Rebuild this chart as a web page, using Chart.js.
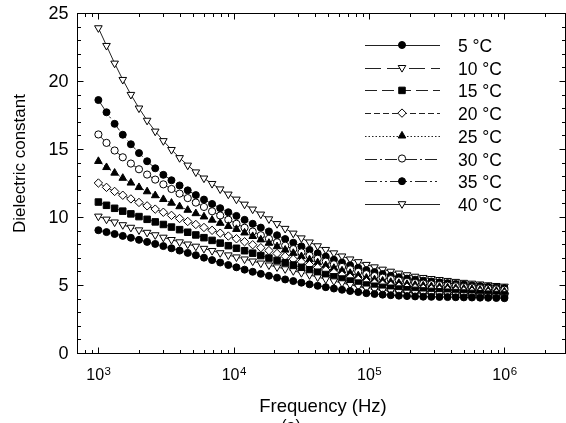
<!DOCTYPE html>
<html>
<head>
<meta charset="utf-8">
<script src="https://cdn.jsdelivr.net/npm/chart.js@4.4.0/dist/chart.umd.min.js"></script>
<style>
  html, body { margin: 0; padding: 0; background: #fff; }
  #wrap { width: 566px; height: 423px; }
</style>
</head>
<body>
<div id="wrap"><canvas id="chart" width="566" height="423"></canvas></div>
<script>
// Dielectric constant vs frequency, 5-40 degC

const freqs = [1000, 1148, 1318, 1514, 1738, 1995, 2291, 2630, 3020, 3467,
    3981, 4571, 5248, 6026, 6918, 7943, 9120, 10471, 12023, 13804,
    15849, 18197, 20893, 23988, 27542, 31623, 36308, 41687, 47863, 54954,
    63096, 72444, 83176, 95499, 109648, 125893, 144544, 165959, 190546, 218776,
    251189, 288403, 331131, 380189, 436516, 501187, 575440, 660693, 758578, 870964,
    1000000];

const temps = ['5', '10', '15', '20', '25', '30', '35', '40'];

const eps5 = [9.03, 8.89, 8.75, 8.61, 8.47, 8.32, 8.17, 8.02, 7.86, 7.70,
    7.53, 7.36, 7.19, 7.01, 6.83, 6.65, 6.47, 6.30, 6.13, 5.97,
    5.82, 5.68, 5.54, 5.41, 5.29, 5.17, 5.05, 4.94, 4.84, 4.74,
    4.65, 4.56, 4.48, 4.40, 4.34, 4.29, 4.25, 4.215, 4.185, 4.16,
    4.14, 4.13, 4.12, 4.11, 4.10, 4.09, 4.08, 4.07, 4.06, 4.045, 4.03];
const eps10 = [10.05, 9.83, 9.62, 9.42, 9.23, 9.04, 8.86, 8.68, 8.50, 8.33,
    8.16, 8.00, 7.84, 7.68, 7.52, 7.36, 7.20, 7.05, 6.90, 6.75,
    6.60, 6.46, 6.32, 6.18, 6.04, 5.90, 5.74, 5.58, 5.43, 5.29,
    5.15, 5.02, 4.89, 4.76, 4.68, 4.61, 4.55, 4.50, 4.46, 4.425,
    4.395, 4.37, 4.35, 4.325, 4.30, 4.275, 4.25, 4.225, 4.20, 4.175, 4.15];
const eps15 = [11.1, 10.86, 10.64, 10.43, 10.23, 10.03, 9.83, 9.64, 9.45, 9.26,
    9.07, 8.88, 8.68, 8.48, 8.28, 8.08, 7.89, 7.70, 7.52, 7.34,
    7.16, 6.98, 6.81, 6.64, 6.47, 6.30, 6.12, 5.94, 5.77, 5.60,
    5.44, 5.29, 5.14, 5.00, 4.91, 4.83, 4.76, 4.70, 4.65, 4.605,
    4.565, 4.53, 4.50, 4.47, 4.44, 4.41, 4.38, 4.355, 4.325, 4.30, 4.27];
const eps20 = [12.5, 12.18, 11.88, 11.60, 11.33, 11.07, 10.82, 10.58, 10.35, 10.12,
    9.89, 9.67, 9.45, 9.23, 9.02, 8.81, 8.60, 8.40, 8.18, 7.96,
    7.74, 7.53, 7.32, 7.11, 6.90, 6.70, 6.49, 6.29, 6.10, 5.92,
    5.74, 5.57, 5.41, 5.25, 5.15, 5.06, 4.98, 4.91, 4.85, 4.80,
    4.755, 4.715, 4.68, 4.645, 4.61, 4.575, 4.54, 4.505, 4.47, 4.435, 4.40];
const eps25 = [14.1, 13.65, 13.24, 12.86, 12.51, 12.18, 11.87, 11.58, 11.30, 11.03,
    10.77, 10.51, 10.26, 10.02, 9.78, 9.55, 9.32, 9.10, 8.84, 8.58,
    8.33, 8.08, 7.83, 7.58, 7.34, 7.10, 6.87, 6.65, 6.44, 6.24,
    6.05, 5.87, 5.69, 5.52, 5.40, 5.30, 5.21, 5.13, 5.06, 5.00,
    4.945, 4.895, 4.85, 4.81, 4.77, 4.73, 4.69, 4.64, 4.60, 4.56, 4.52];
const eps30 = [16.07, 15.45, 14.89, 14.39, 13.93, 13.51, 13.12, 12.75, 12.40, 12.06,
    11.72, 11.39, 11.06, 10.74, 10.42, 10.11, 9.80, 9.50, 9.21, 8.93,
    8.66, 8.40, 8.14, 7.89, 7.64, 7.40, 7.16, 6.93, 6.72, 6.52,
    6.33, 6.15, 5.97, 5.80, 5.66, 5.54, 5.43, 5.33, 5.24, 5.16,
    5.10, 5.05, 5.00, 4.95, 4.91, 4.86, 4.82, 4.77, 4.73, 4.69, 4.65];
const eps35 = [18.6, 17.7, 16.85, 16.05, 15.35, 14.7, 14.1, 13.58, 13.1, 12.7,
    12.32, 11.96, 11.61, 11.28, 10.96, 10.65, 10.35, 10.08, 9.79, 9.50,
    9.22, 8.94, 8.66, 8.38, 8.11, 7.84, 7.58, 7.33, 7.09, 6.86,
    6.65, 6.45, 6.27, 6.10, 5.95, 5.81, 5.68, 5.57, 5.47, 5.39,
    5.32, 5.26, 5.20, 5.14, 5.08, 5.03, 4.97, 4.92, 4.87, 4.82, 4.78];
const eps40 = [23.9, 22.6, 21.3, 20.1, 19.0, 18.0, 17.1, 16.3, 15.6, 14.95,
    14.35, 13.8, 13.3, 12.85, 12.45, 12.05, 11.67, 11.3, 10.93, 10.57,
    10.2, 9.85, 9.5, 9.15, 8.8, 8.45, 8.15, 7.87, 7.6, 7.35,
    7.12, 6.9, 6.7, 6.5, 6.32, 6.15, 6.0, 5.86, 5.74, 5.63,
    5.54, 5.46, 5.39, 5.32, 5.25, 5.18, 5.12, 5.06, 5.0, 4.95, 4.9];

const series = [eps5, eps10, eps15, eps20, eps25, eps30, eps35, eps40];

const xDecades = [3, 4, 5, 6];
const yTickValues = [0, 5, 10, 15, 20, 25];

// marker + line style for each temperature
const styles = [
    { point: 'circle', rot: 0, r: 3.5, open: false, dash: [] },
    { point: 'triangle', rot: 180, r: 4.4, open: true, dash: [16, 6] },
    { point: 'rect', rot: 0, r: 4.6, open: false, dash: [12, 5] },
    { point: 'rectRot', rot: 0, r: 4.2, open: true, dash: [6, 3] },
    { point: 'triangle', rot: 0, r: 4.4, open: false, dash: [1.5, 2] },
    { point: 'circle', rot: 0, r: 3.6, open: true, dash: [12, 3, 2, 3] },
    { point: 'circle', rot: 0, r: 3.5, open: false, dash: [12, 3, 2, 3, 2, 3] },
    { point: 'triangle', rot: 180, r: 4.4, open: true, dash: [] }
];

const FONT = '"Liberation Sans", Arial, Helvetica, sans-serif';

const datasets = series.map((vals, i) => {
    const s = styles[i];
    return {
        label: temps[i] + ' °C',
        data: freqs.map((f, k) => ({ x: f, y: vals[k] })),
        borderColor: '#222',
        borderWidth: 1,
        borderDash: s.dash,
        pointStyle: s.point,
        pointRotation: s.rot,
        pointRadius: s.r,
        pointBorderWidth: 1,
        pointBorderColor: '#000',
        pointBackgroundColor: s.open ? '#fff' : '#000',
        fill: false,
        tension: 0
    };
});

function crisp(v) { return Math.round(v) + 0.5; }

const framePlugin = {
    id: 'frame',
    afterDraw(chart) {
        const ctx = chart.ctx;
        const a = chart.chartArea;
        const xs = chart.scales.x;
        const ys = chart.scales.y;
        ctx.save();
        ctx.strokeStyle = '#000';
        ctx.fillStyle = '#000';
        ctx.lineWidth = 1;
        ctx.setLineDash([]);

        const L = crisp(a.left), R = crisp(a.right - 1), T = crisp(a.top), B = crisp(a.bottom);
        ctx.strokeRect(L, T, R - L, B - T);

        // x ticks, inside, top and bottom
        ctx.beginPath();
        for (let d = 2; d <= 6; d++) {
            for (let m = 1; m <= 9; m++) {
                const v = m * Math.pow(10, d);
                if (v < xs.min || v > xs.max) continue;
                const px = crisp(xs.getPixelForValue(v));
                const len = m === 1 ? 6 : 3.5;
                ctx.moveTo(px, B); ctx.lineTo(px, B - len);
                ctx.moveTo(px, T); ctx.lineTo(px, T + len);
            }
        }
        // y ticks, every unit
        for (let v = 0; v <= 25; v++) {
            const py = crisp(ys.getPixelForValue(v));
            const len = v % 5 === 0 ? 6 : 3.5;
            ctx.moveTo(L, py); ctx.lineTo(L + len, py);
            ctx.moveTo(R, py); ctx.lineTo(R - len, py);
        }
        ctx.stroke();

        // y tick labels
        ctx.font = '18px ' + FONT;
        ctx.textAlign = 'right';
        ctx.textBaseline = 'middle';
        yTickValues.forEach(v => {
            ctx.fillText(String(v), 68.5, ys.getPixelForValue(v) + 1);
        });

        // x tick labels 10^n
        ctx.textAlign = 'left';
        ctx.textBaseline = 'alphabetic';
        xDecades.forEach(d => {
            const px = xs.getPixelForValue(Math.pow(10, d));
            ctx.font = '16px ' + FONT;
            const wBase = ctx.measureText('10').width;
            ctx.font = '11.5px ' + FONT;
            const wExp = ctx.measureText(String(d)).width;
            const x0 = px - (wBase + wExp) / 2;
            ctx.font = '16px ' + FONT;
            ctx.fillText('10', x0, 380);
            ctx.font = '11.5px ' + FONT;
            ctx.fillText(String(d), x0 + wBase + 0.5, 374.8);
        });

        // axis titles
        ctx.font = '18.5px ' + FONT;
        ctx.textAlign = 'center';
        ctx.fillText('Frequency (Hz)', (a.left + a.right) / 2 + 1.5, 411.5);
        ctx.font = '16px ' + FONT;
        ctx.fillText('(a)', 291, 431);

        ctx.save();
        ctx.translate(25, 163.5);
        ctx.rotate(-Math.PI / 2);
        ctx.font = '17px ' + FONT;
        ctx.textAlign = 'center';
        ctx.textBaseline = 'alphabetic';
        ctx.fillText('Dielectric constant', 0, 0);
        ctx.restore();

        // legend
        chart.data.datasets.forEach((ds, i) => {
            const s = styles[i];
            const y = 45 + i * 22.7;
            const yl = crisp(y);
            ctx.strokeStyle = '#222';
            ctx.setLineDash(s.dash);
            ctx.beginPath();
            ctx.moveTo(365, yl); ctx.lineTo(440, yl);
            ctx.stroke();
            ctx.setLineDash([]);
            ctx.strokeStyle = '#000';
            ctx.fillStyle = s.open ? '#fff' : '#000';
            Chart.helpers.drawPoint(ctx, {
                pointStyle: s.point, rotation: s.rot, radius: s.r, borderWidth: 1
            }, 402, y);
            ctx.fillStyle = '#000';
            ctx.font = '17.5px ' + FONT;
            ctx.textAlign = 'left';
            ctx.textBaseline = 'alphabetic';
            ctx.fillText(ds.label, 458, y + 7);
        });
        ctx.restore();
    }
};

new Chart(document.getElementById('chart'), {
    type: 'line',
    data: { datasets: datasets },
    options: {
        responsive: false,
        animation: false,
        devicePixelRatio: 1,
        layout: {
            autoPadding: false,
            padding: { left: 77, right: 0, top: 13, bottom: 70 }
        },
        plugins: {
            legend: { display: false },
            tooltip: { enabled: false }
        },
        scales: {
            x: {
                type: 'logarithmic',
                display: false,
                min: 695,
                max: 2850000
            },
            y: {
                type: 'linear',
                display: false,
                min: 0,
                max: 25
            }
        }
    },
    plugins: [framePlugin]
});
</script>
</body>
</html>
